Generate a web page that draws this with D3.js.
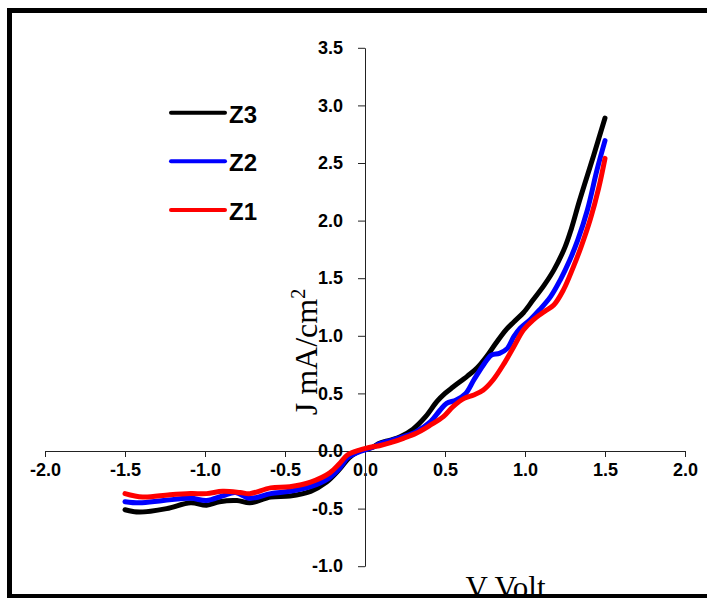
<!DOCTYPE html>
<html>
<head>
<meta charset="utf-8">
<script src="https://cdn.jsdelivr.net/npm/d3@7"></script>
<style>
  body { margin: 0; background: #fff; }
  svg { display: block; }
</style>
</head>
<body>
<div id="chart"></div>
<script>
// tick values for both axes
var xTicks = [-2.0, -1.5, -1.0, -0.5, 0.0, 0.5, 1.0, 1.5, 2.0];
var yTicks = [-1.0, -0.5, 0.0, 0.5, 1.0, 1.5, 2.0, 2.5, 3.0, 3.5];

var seriesNames = ['Z3', 'Z2', 'Z1'];
var seriesColors = ['#000000', '#0000ff', '#ff0000'];

// Z3 (black)
var z3V = [-1.5, -1.41, -1.24, -1.09, -0.99, -0.91, -0.8, -0.72, -0.59, -0.47, -0.34, -0.24, -0.16, -0.1, -0.05, 0.05, 0.09, 0.16, 0.22, 0.3, 0.38, 0.45, 0.5, 0.55, 0.64, 0.7, 0.76, 0.82, 0.88, 0.93, 0.99, 1.05, 1.12, 1.18, 1.25, 1.29, 1.34, 1.43, 1.5];
var z3J = [-0.51, -0.53, -0.5, -0.45, -0.47, -0.44, -0.43, -0.45, -0.4, -0.39, -0.35, -0.27, -0.16, -0.06, -0.01, 0.035, 0.067, 0.095, 0.124, 0.19, 0.3, 0.43, 0.5, 0.555, 0.65, 0.72, 0.82, 0.94, 1.05, 1.12, 1.2, 1.31, 1.44, 1.57, 1.77, 1.93, 2.17, 2.57, 2.89];

// Z2 (blue)
var z2V = [-1.5, -1.41, -1.26, -1.09, -0.99, -0.89, -0.81, -0.72, -0.59, -0.47, -0.34, -0.23, -0.16, -0.11, -0.05, 0.05, 0.09, 0.16, 0.24, 0.32, 0.41, 0.47, 0.51, 0.57, 0.63, 0.68, 0.74, 0.79, 0.84, 0.89, 0.93, 0.97, 1.03, 1.09, 1.16, 1.22, 1.28, 1.33, 1.39, 1.45, 1.5];
var z2J = [-0.44, -0.45, -0.43, -0.41, -0.43, -0.39, -0.36, -0.41, -0.37, -0.35, -0.31, -0.24, -0.15, -0.06, -0.015, 0.032, 0.062, 0.09, 0.124, 0.168, 0.255, 0.356, 0.414, 0.443, 0.5, 0.616, 0.747, 0.833, 0.848, 0.891, 0.992, 1.065, 1.137, 1.224, 1.34, 1.484, 1.658, 1.832, 2.092, 2.44, 2.694];

// Z1 (red)
var z1V = [-1.5, -1.39, -1.22, -1.09, -0.99, -0.89, -0.78, -0.72, -0.59, -0.47, -0.34, -0.22, -0.16, -0.11, -0.03, 0.05, 0.09, 0.16, 0.24, 0.32, 0.41, 0.49, 0.55, 0.62, 0.68, 0.74, 0.8, 0.87, 0.93, 0.99, 1.05, 1.12, 1.18, 1.24, 1.3, 1.35, 1.41, 1.46, 1.5];
var z1J = [-0.37, -0.4, -0.38, -0.37, -0.37, -0.35, -0.36, -0.37, -0.32, -0.31, -0.27, -0.19, -0.11, -0.035, 0.01, 0.037, 0.046, 0.072, 0.11, 0.154, 0.226, 0.298, 0.385, 0.457, 0.486, 0.53, 0.616, 0.761, 0.905, 1.05, 1.137, 1.209, 1.267, 1.398, 1.59, 1.77, 2.02, 2.28, 2.54];

var width = 707, height = 598;
var labelFont = 'Liberation Sans, Arial, sans-serif';
var titleFont = 'Liberation Serif, Times New Roman, serif';

var svg = d3.select('#chart').append('svg')
  .attr('width', width)
  .attr('height', height);

var x = d3.scaleLinear().domain([-2, 2]).range([45, 685]);
var y = d3.scaleLinear().domain([-1, 3.5]).range([566.2, 47.8]);

var fmt = function(d) { return d.toFixed(1); };

// x axis crosses at J = 0
var xAxis = svg.append('g')
  .attr('transform', 'translate(0,' + y(0) + ')')
  .call(d3.axisBottom(x).tickValues(xTicks).tickFormat(fmt).tickSize(6).tickPadding(6).tickSizeOuter(0));

// y axis crosses at V = 0
var yAxis = svg.append('g')
  .attr('transform', 'translate(' + x(0) + ',0)')
  .call(d3.axisLeft(y).tickValues(yTicks).tickFormat(fmt).tickSize(7).tickPadding(15).tickSizeOuter(0));

[xAxis, yAxis].forEach(function(ax) {
  ax.select('.domain').attr('stroke', '#222');
  ax.selectAll('.tick line').attr('stroke', '#222');
  ax.selectAll('.tick text')
    .attr('fill', '#000')
    .style('font-family', labelFont)
    .style('font-size', '18px')
    .style('font-weight', 'bold');
});

var line = d3.line()
  .x(function(d) { return x(d[0]); })
  .y(function(d) { return y(d[1]); })
  .curve(d3.curveCatmullRom.alpha(0.5));

var series = [d3.zip(z3V, z3J), d3.zip(z2V, z2J), d3.zip(z1V, z1J)];

svg.append('g').selectAll('path.curve')
  .data(series)
  .enter()
  .append('path')
  .attr('class', 'curve')
  .attr('d', line)
  .attr('fill', 'none')
  .attr('stroke', function(d, i) { return seriesColors[i]; })
  .attr('stroke-width', 5)
  .attr('stroke-linecap', 'round')
  .attr('stroke-linejoin', 'round');

// legend
var legend = svg.append('g').selectAll('g')
  .data(seriesNames)
  .enter()
  .append('g')
  .attr('transform', function(d, i) { return 'translate(0,' + (112.7 + i * 48.6) + ')'; });

legend.append('line')
  .attr('x1', 171).attr('x2', 225)
  .attr('y1', 0).attr('y2', 0)
  .attr('stroke', function(d, i) { return seriesColors[i]; })
  .attr('stroke-width', 4)
  .attr('stroke-linecap', 'round');

legend.append('text')
  .attr('x', 229)
  .attr('y', 10)
  .style('font-family', labelFont)
  .style('font-size', '24px')
  .style('font-weight', 'bold')
  .text(function(d) { return d; });

// axis titles
var yTitle = svg.append('text')
  .attr('transform', 'translate(317,352) rotate(-90)')
  .attr('text-anchor', 'middle')
  .style('font-family', titleFont)
  .style('font-size', '32px');
yTitle.append('tspan').text('J mA/cm');
yTitle.append('tspan').attr('dy', -12).style('font-size', '20px').text('2');

svg.append('text')
  .attr('x', 505.5)
  .attr('y', 598)
  .attr('text-anchor', 'middle')
  .style('font-family', titleFont)
  .style('font-size', '31px')
  .text('V Volt');

// outer frame, right edge runs off the picture
svg.append('rect')
  .attr('x', 9.5)
  .attr('y', 10.5)
  .attr('width', 720)
  .attr('height', 586)
  .attr('fill', 'none')
  .attr('stroke', '#000')
  .attr('stroke-width', 5);
</script>
</body>
</html>
